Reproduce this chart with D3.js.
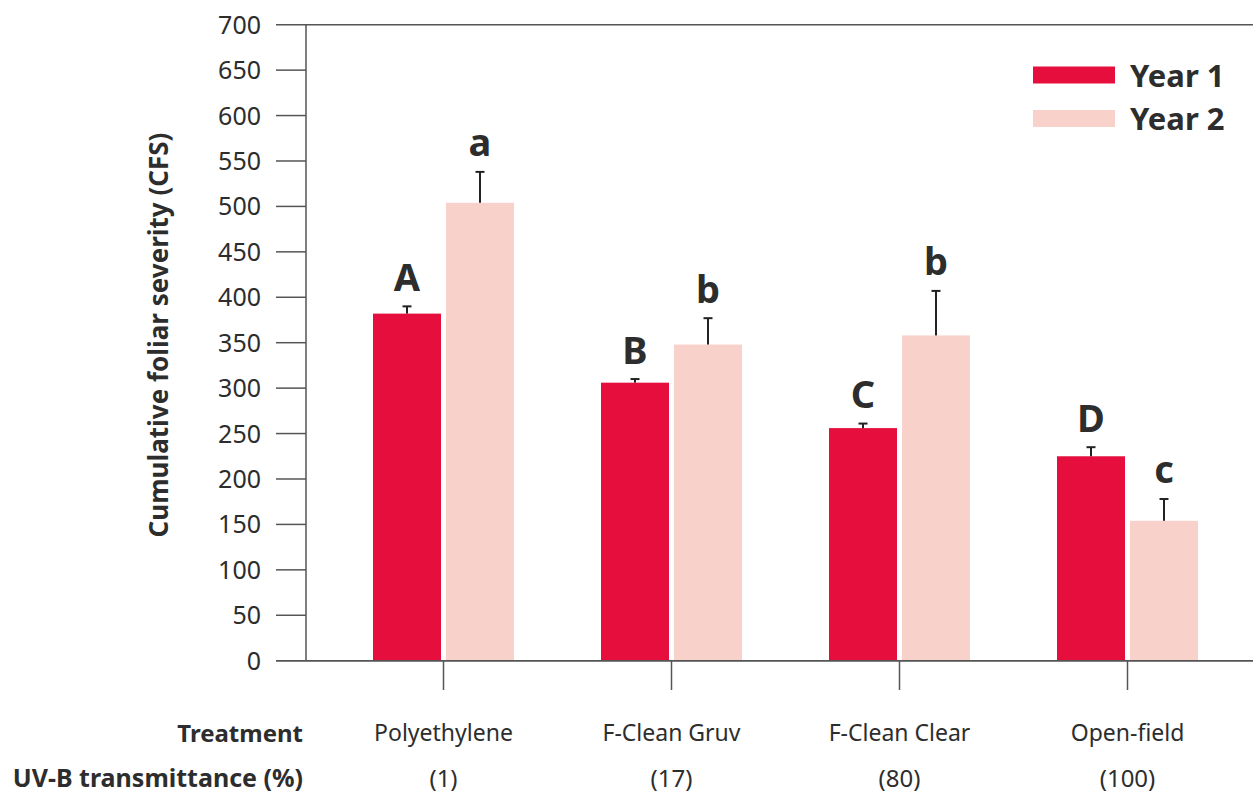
<!DOCTYPE html>
<html lang="en">
<head>
<meta charset="UTF-8">
<title>Cumulative foliar severity</title>
<style>
  body { margin: 0; background: #fff; }
  svg text { font-family: "Noto Sans", Lato, sans-serif; fill: #2d2d2d; }
</style>
</head>
<body>
<script src="https://cdn.jsdelivr.net/npm/d3@7"></script>
<script>
const treatments = ["Polyethylene", "F-Clean Gruv", "F-Clean Clear", "Open-field"];
const transmittance = ["(1)", "(17)", "(80)", "(100)"];
const seriesNames = ["Year 1", "Year 2"];
const year1 = [382, 306, 256, 225];
const year2 = [504, 348, 358, 154];
const year1Err = [8, 4, 5, 10];
const year2Err = [34, 29, 49, 24];
const year1Letters = ["A", "B", "C", "D"];
const year2Letters = ["a", "b", "b", "c"];
const yTicks = d3.range(0, 701, 50);

const W = 1253, H = 796;
const colors = { "Year 1": "#e50e3c", "Year 2": "#f9d1cb" };

const svg = d3.select("body").append("svg")
  .attr("width", W).attr("height", H);

const y = d3.scaleLinear().domain([0, 700]).range([660.7, 24.7]);
const x = d3.scaleBand().domain(treatments).range([329.5, 1241.5]);
const xs = d3.scaleBand().domain(seriesNames).range([-70.5, 70.5]).paddingInner(0.0685);

// y ticks, top and bottom lines run across
svg.append("g").selectAll("line").data(yTicks).join("line")
  .attr("x1", 276).attr("x2", d => (d === 700 || d === 0) ? W : 306)
  .attr("y1", d => y(d)).attr("y2", d => y(d))
  .attr("stroke", "#555").attr("stroke-width", 1.5);

svg.append("g").selectAll("text").data(yTicks).join("text")
  .attr("x", 261).attr("y", d => y(d) + 9)
  .attr("text-anchor", "end").attr("font-size", 25)
  .text(d => d);

svg.append("line").attr("x1", 306).attr("x2", 306)
  .attr("y1", y(700)).attr("y2", y(0))
  .attr("stroke", "#555").attr("stroke-width", 1.5);

svg.append("text")
  .attr("transform", "translate(168,335) rotate(-90)")
  .attr("text-anchor", "middle").attr("font-size", 26).attr("font-weight", 700)
  .text("Cumulative foliar severity (CFS)");

const rows = treatments.map((t, i) => ({
  t,
  bars: [
    { s: "Year 1", v: year1[i], e: year1Err[i], l: year1Letters[i] },
    { s: "Year 2", v: year2[i], e: year2Err[i], l: year2Letters[i] }
  ]
}));

const groups = svg.append("g").selectAll("g").data(rows).join("g")
  .attr("transform", d => `translate(${x(d.t) + x.bandwidth() / 2},0)`);

const bar = groups.selectAll("g").data(d => d.bars).join("g");

bar.append("rect")
  .attr("x", d => xs(d.s)).attr("width", xs.bandwidth())
  .attr("y", d => y(d.v)).attr("height", d => y(0) - y(d.v))
  .attr("fill", d => colors[d.s]);

const cx = d => xs(d.s) + xs.bandwidth() / 2;
bar.append("line")
  .attr("x1", cx).attr("x2", cx)
  .attr("y1", d => y(d.v)).attr("y2", d => y(d.v + d.e))
  .attr("stroke", "#222").attr("stroke-width", 2);
bar.append("line")
  .attr("x1", d => cx(d) - 4.5).attr("x2", d => cx(d) + 4.5)
  .attr("y1", d => y(d.v + d.e)).attr("y2", d => y(d.v + d.e))
  .attr("stroke", "#222").attr("stroke-width", 2);

bar.append("text")
  .attr("x", cx).attr("y", d => y(d.v + d.e) - 15.5)
  .attr("text-anchor", "middle").attr("font-size", 38).attr("font-weight", 700)
  .text(d => d.l);

svg.append("line").attr("x1", 276).attr("x2", W)
  .attr("y1", y(0)).attr("y2", y(0))
  .attr("stroke", "#555").attr("stroke-width", 1.5);

// category ticks and labels
groups.append("line")
  .attr("x1", 0).attr("x2", 0).attr("y1", y(0)).attr("y2", 690)
  .attr("stroke", "#555").attr("stroke-width", 1.5);
groups.append("text")
  .attr("y", 741).attr("text-anchor", "middle").attr("font-size", 23)
  .text(d => d.t);
groups.append("text")
  .attr("y", 787).attr("text-anchor", "middle").attr("font-size", 24)
  .text((d, i) => transmittance[i]);

svg.append("text").attr("x", 303).attr("y", 742)
  .attr("text-anchor", "end").attr("font-size", 24).attr("font-weight", 700)
  .text("Treatment");
svg.append("text").attr("x", 303).attr("y", 787)
  .attr("text-anchor", "end").attr("font-size", 25).attr("font-weight", 700)
  .text("UV-B transmittance (%)");

// legend
const legend = svg.append("g").selectAll("g").data(seriesNames).join("g")
  .attr("transform", (d, i) => `translate(1033,${66.5 + i * 43.5})`);
legend.append("rect").attr("width", 82).attr("height", 17)
  .attr("fill", d => colors[d]);
legend.append("text").attr("x", 97).attr("y", 20)
  .attr("font-size", 31).attr("font-weight", 700)
  .text(d => d);
</script>
</body>
</html>
